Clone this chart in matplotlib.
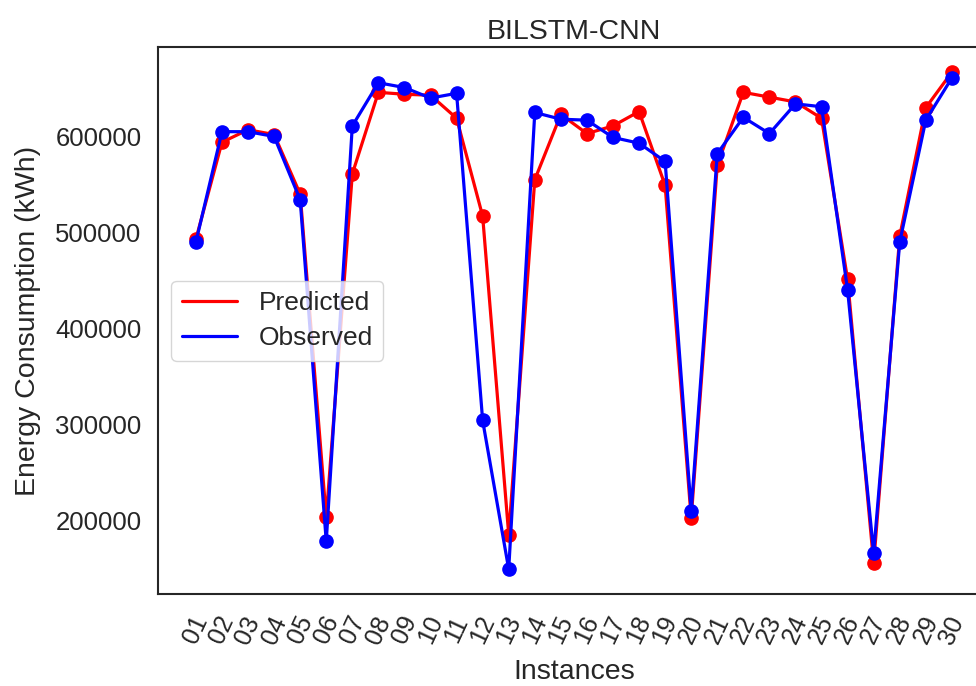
import matplotlib
matplotlib.use("Agg")
import matplotlib.pyplot as plt
import seaborn as sns

# values
instances = ["%02d" % i for i in range(1, 31)]
predicted = [493000, 594000, 607000, 602000, 540000, 203000, 561000, 646000, 644000, 643000,
             619000, 517000, 185000, 555000, 623000, 603000, 611000, 626000, 549000, 202000,
             570000, 646000, 641000, 636000, 619000, 451000, 155000, 496000, 630000, 667000]
observed = [490000, 605000, 605000, 600000, 534000, 178000, 611000, 656000, 651000, 640000,
            645000, 304000, 149000, 625000, 618000, 617000, 599000, 593000, 574000, 210000,
            582000, 620000, 603000, 634000, 631000, 440000, 166000, 490000, 617000, 661000]

sns.set_style("white")
plt.rcParams['font.family'] = ['Liberation Sans', 'DejaVu Sans']

fig = plt.figure(figsize=(9.76, 6.86), dpi=100)
ax = fig.add_axes([0.162, 0.134, 0.852, 0.797])

# lines carry the legend entries, dots are drawn on top without labels
ax.plot(instances, predicted, color="red", linewidth=2.3, label="Predicted")
ax.plot(instances, predicted, color="red", marker="o", markersize=9.5, linestyle="none")
ax.plot(instances, observed, color="blue", linewidth=2.3, label="Observed")
ax.plot(instances, observed, color="blue", marker="o", markersize=9.5, linestyle="none")

ax.set_title("BILSTM-CNN", fontsize=20.5)
ax.set_xlabel("Instances", fontsize=20.5, labelpad=8)
ax.set_ylabel("Energy Consumption (kWh)", fontsize=20.5, labelpad=10)
ax.tick_params(axis="x", labelsize=18, rotation=65, pad=13, length=0)
ax.tick_params(axis="y", labelsize=18.5, pad=12, length=0)
for lbl in ax.get_xticklabels():
    lbl.set_ha("center")

for s in ax.spines.values():
    s.set_color("#262626")
    s.set_linewidth(1.5)

ax.legend(loc="center left", fontsize=19, frameon=True, handlelength=2.1,
          labelspacing=0.4)

fig.savefig("out.png", dpi=100)
